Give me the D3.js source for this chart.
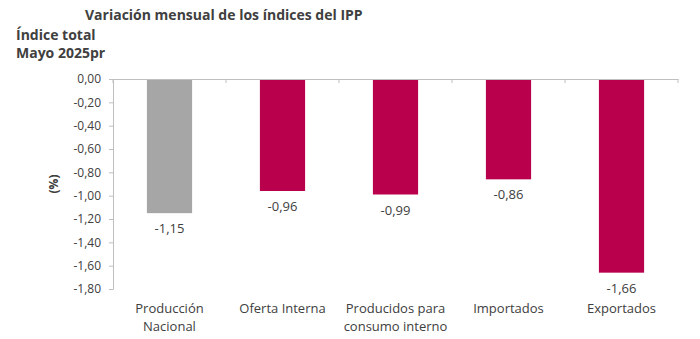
<!DOCTYPE html>
<html>
<head>
<meta charset="utf-8">
<script src="https://cdn.jsdelivr.net/npm/d3@7"></script>
<style>
  body { margin: 0; background: #fff; }
  svg { font-family: "Open Sans", "Noto Sans", sans-serif; }
</style>
</head>
<body>
<div id="chart"></div>
<script>
const categories = [["Producción", "Nacional"], ["Oferta Interna"], ["Producidos para", "consumo interno"], ["Importados"], ["Exportados"]];
const values = [-1.15, -0.96, -0.99, -0.86, -1.66];
const barColors = ["#a6a6a6", "#b8004c", "#b8004c", "#b8004c", "#b8004c"];
const yTicks = [0, -0.2, -0.4, -0.6, -0.8, -1.0, -1.2, -1.4, -1.6, -1.8];

const width = 700, height = 339;
const margin = {top: 79, left: 113, right: 22, bottom: 50};

const svg = d3.select("#chart").append("svg")
    .attr("width", width)
    .attr("height", height);

const fmt = v => d3.format(".2f")(v).replace(".", ",").replace("−", "-");

const x = d3.scaleBand()
    .domain(d3.range(categories.length))
    .range([margin.left, width - margin.right])
    .paddingInner(0.6)
    .paddingOuter(0.3);

const y = d3.scaleLinear()
    .domain([0, -1.8])
    .range([margin.top, height - margin.bottom]);

// titles
svg.append("text").attr("x", 85).attr("y", 20)
    .attr("font-size", 14).attr("font-weight", "bold").attr("fill", "#404040")
    .text("Variación mensual de los índices del IPP");
svg.append("text").attr("x", 16).attr("y", 40)
    .attr("font-size", 14).attr("font-weight", "bold").attr("fill", "#404040")
    .text("Índice total");
svg.append("text").attr("x", 16).attr("y", 58)
    .attr("font-size", 14).attr("font-weight", "bold").attr("fill", "#404040")
    .text("Mayo 2025pr");

// y axis
const yAxis = svg.append("g")
    .attr("transform", `translate(${margin.left},0)`)
    .call(d3.axisLeft(y).tickValues(yTicks).tickFormat(fmt).tickSize(4).tickPadding(8));
yAxis.select(".domain").attr("stroke", "#bfbfbf");
yAxis.selectAll(".tick line").attr("stroke", "#bfbfbf");
yAxis.selectAll("text").attr("font-size", 12).attr("fill", "#404040")
    .attr("font-family", "'Open Sans', sans-serif");

svg.append("text")
    .attr("transform", `translate(58,${y(-0.9)}) rotate(-90)`)
    .attr("text-anchor", "middle")
    .attr("font-size", 12).attr("font-weight", "bold").attr("fill", "#404040")
    .text("(%)");

// bars
svg.selectAll("rect.bar")
    .data(values)
    .enter()
    .append("rect")
    .attr("class", "bar")
    .attr("x", (d, i) => x(i))
    .attr("y", y(0))
    .attr("width", x.bandwidth())
    .attr("height", d => y(d) - y(0))
    .attr("fill", (d, i) => barColors[i]);

// x axis along zero line
const step = x.step();
const xAxis = svg.append("g")
    .attr("transform", `translate(0,${y(0)})`)
    .call(d3.axisBottom(x).tickSize(0).tickFormat(""));
xAxis.select(".domain").attr("stroke", "#bfbfbf");
svg.selectAll("line.sep")
    .data(d3.range(categories.length + 1))
    .enter()
    .append("line")
    .attr("class", "sep")
    .attr("x1", i => margin.left + i * step)
    .attr("x2", i => margin.left + i * step)
    .attr("y1", y(0))
    .attr("y2", y(0) + 4)
    .attr("stroke", "#bfbfbf");

// value labels
svg.selectAll("text.val")
    .data(values)
    .enter()
    .append("text")
    .attr("class", "val")
    .attr("x", (d, i) => x(i) + x.bandwidth() / 2)
    .attr("y", d => y(d) + 20)
    .attr("text-anchor", "middle")
    .attr("font-size", 13).attr("fill", "#404040")
    .text(fmt);

// category labels
svg.selectAll("text.cat")
    .data(categories)
    .enter()
    .append("text")
    .attr("class", "cat")
    .attr("x", (d, i) => x(i) + x.bandwidth() / 2)
    .attr("y", 313)
    .attr("text-anchor", "middle")
    .attr("font-size", 13).attr("fill", "#404040")
    .selectAll("tspan")
    .data(d => d)
    .enter()
    .append("tspan")
    .attr("x", function() { return d3.select(this.parentNode).attr("x"); })
    .attr("dy", (d, i) => i === 0 ? 0 : 18)
    .text(d => d);
</script>
</body>
</html>
